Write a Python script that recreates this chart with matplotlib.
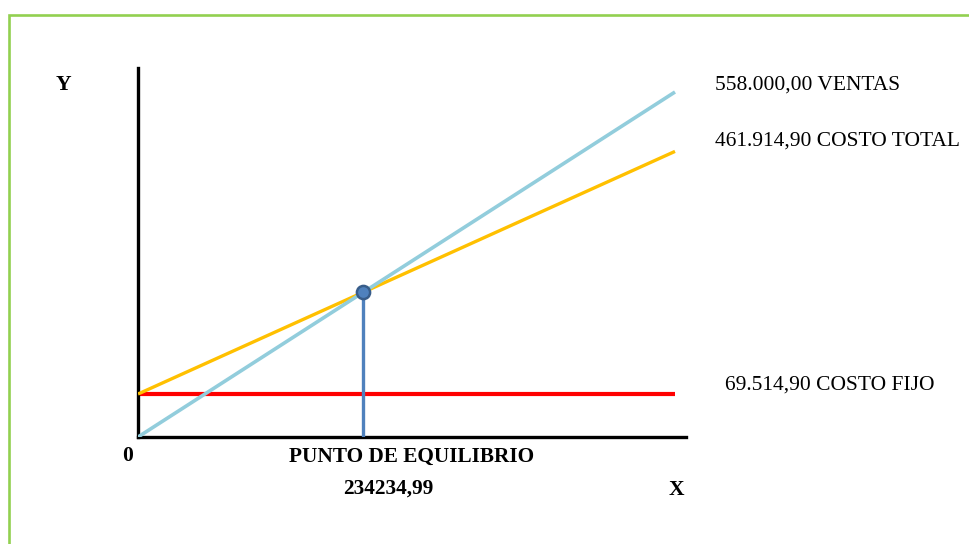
import matplotlib
matplotlib.use("Agg")
import matplotlib.pyplot as plt
from matplotlib.patches import Rectangle

# Break-even data (currency units)
costo_fijo = 69514.90
ventas_total = 558000.00
costo_total = 461914.90
punto_equilibrio = 234234.99

x_range = [0.0, ventas_total]
ventas_line = [0.0, ventas_total]
costo_total_line = [costo_fijo, costo_total]
costo_fijo_line = [costo_fijo, costo_fijo]

label_ventas = "558.000,00 VENTAS"
label_ct = "461.914,90 COSTO TOTAL"
label_cf = "69.514,90 COSTO FIJO"
label_pe = "PUNTO DE EQUILIBRIO"
label_pe_val = "234234,99"

plt.rcParams['font.family'] = ['Liberation Serif', 'DejaVu Serif']

W, H = 970, 544
fig = plt.figure(figsize=(W / 100, H / 100), dpi=100)
fig.patch.set_facecolor('white')

# frame around the whole graphic
fig.patches.append(Rectangle((9 / W, -0.2), 1.2, 1.2 - 15 / H,
                             transform=fig.transFigure, fill=False,
                             edgecolor='#92D050', linewidth=1.9))

ax = fig.add_axes([138 / W, 1 - 437 / H, (686 - 138) / W, (437 - 68) / H])
ax.set_xlim(0, 569430)
ax.set_ylim(0, 596800)
for side in ('top', 'right'):
    ax.spines[side].set_visible(False)
for side in ('left', 'bottom'):
    ax.spines[side].set_linewidth(2.4)
    ax.spines[side].set_color('black')
ax.set_xticks([])
ax.set_yticks([])
ax.patch.set_alpha(0)

ax.plot(x_range, costo_fijo_line, color='#FF0000', lw=3.0, solid_capstyle='butt', zorder=2)
ax.plot(x_range, costo_total_line, color='#FFC000', lw=2.4, solid_capstyle='butt', zorder=3)
ax.plot(x_range, ventas_line, color='#92CDDC', lw=2.6, solid_capstyle='butt', zorder=4)

# break-even marker and drop line
ax.plot([punto_equilibrio, punto_equilibrio], [0, punto_equilibrio],
        color='#4F81BD', lw=2.4, solid_capstyle='butt', zorder=5)
ax.plot([punto_equilibrio], [punto_equilibrio], marker='o', ms=9.5,
        mfc='#4F81BD', mec='#385D8A', mew=1.8, zorder=6, clip_on=False)

# value labels next to the line ends
px = 72 / 100
ax.annotate(label_ventas, xy=(ventas_total, ventas_line[-1]),
            xytext=(40 * px, 7 * px), textcoords='offset points',
            ha='left', va='center', fontsize=15.5, annotation_clip=False)
ax.annotate(label_ct, xy=(ventas_total, costo_total_line[-1]),
            xytext=(40 * px, 10 * px), textcoords='offset points',
            ha='left', va='center', fontsize=15.5, annotation_clip=False)
ax.annotate(label_cf, xy=(ventas_total, costo_fijo_line[-1]),
            xytext=(50 * px, 9 * px), textcoords='offset points',
            ha='left', va='center', fontsize=15.5, annotation_clip=False)

# axis captions
fig.text(63 / W, 1 - 85 / H, "Y", ha='center', va='center', fontsize=15.5, fontweight='bold')
fig.text(676 / W, 1 - 490 / H, "X", ha='center', va='center', fontsize=15.5, fontweight='bold')
fig.text(128 / W, 1 - 456 / H, "0", ha='center', va='center', fontsize=15.5, fontweight='bold')
fig.text(412 / W, 1 - 457 / H, label_pe, ha='center', va='center', fontsize=15.3, fontweight='bold')
fig.text(388 / W, 1 - 489 / H, label_pe_val, ha='center', va='center', fontsize=15.3, fontweight='bold')

fig.savefig('out.png', dpi=100, facecolor='white')
